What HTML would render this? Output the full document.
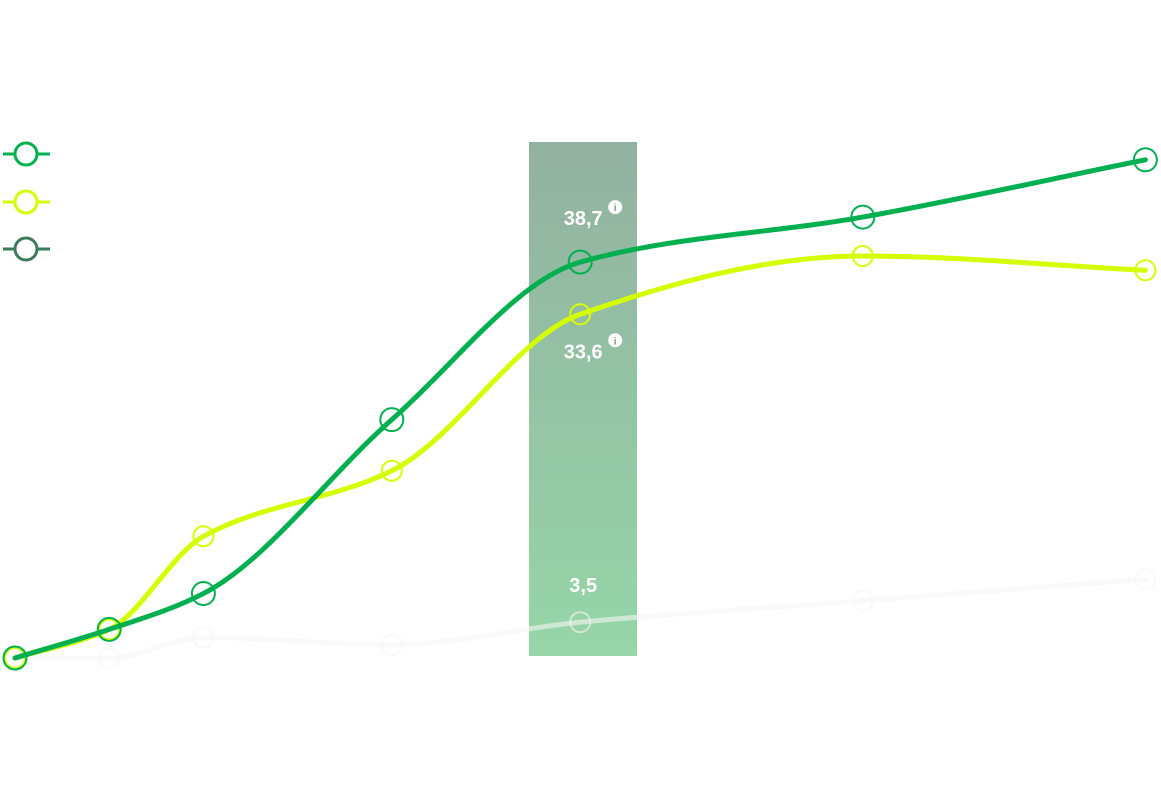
<!DOCTYPE html>
<html><head><meta charset="utf-8"><style>
html,body{margin:0;padding:0;background:#fff;width:1161px;height:804px;overflow:hidden}
svg{display:block;font-family:"Liberation Sans",sans-serif}
</style></head><body>
<svg id="chart" width="1161" height="804" viewBox="0 0 1161 804">
<defs><linearGradient id="bandGrad" x1="0" y1="0" x2="0" y2="1"><stop offset="0" stop-color="#93b1a1"/><stop offset="1" stop-color="#96d6a8"/></linearGradient></defs>
<rect x="529" y="142" width="108" height="514" fill="url(#bandGrad)"/>
<g id="legend">
<g><line x1="3" y1="154" x2="50" y2="154" stroke="#00b050" stroke-width="3"/><circle cx="26" cy="154" r="11" fill="#fff" stroke="#00b050" stroke-width="3"/></g>
<g><line x1="3" y1="202" x2="50" y2="202" stroke="#d4ff00" stroke-width="3"/><circle cx="26" cy="202" r="11" fill="#fff" stroke="#d4ff00" stroke-width="3"/></g>
<g><line x1="3" y1="249" x2="50" y2="249" stroke="#3e7a5c" stroke-width="3"/><circle cx="26" cy="249" r="11" fill="#fff" stroke="#3e7a5c" stroke-width="3"/></g>
</g>
<g id="plot"></g>
</svg>
<script>
const xValues=[0,1,2,4,6,9,12];
const seriesGreen=[0,2.8,6.3,23.3,38.7,43.1,48.7];
const seriesYellow=[0,2.8,11.9,18.3,33.6,39.3,37.9];
const seriesGray=[0,0,2.0,1.3,3.5,5.6,7.7];
const highlightIndex=4;
const labelGreen="38,7", labelYellow="33,6", labelGray="3,5";

const X=v=>15+v*94.2, Y=v=>658-v*10.23;
const NS="http://www.w3.org/2000/svg";
const plot=document.getElementById('plot');
function mk(t,a){const e=document.createElementNS(NS,t);for(const k in a)e.setAttribute(k,a[k]);return e;}
function monotonePath(xs,ys){
  const n=xs.length,d=[],m=[];
  for(let i=0;i<n-1;i++)d.push((ys[i+1]-ys[i])/(xs[i+1]-xs[i]));
  m[0]=d[0];m[n-1]=d[n-2];
  for(let i=1;i<n-1;i++){m[i]=0;
    const w1=2*(xs[i+1]-xs[i])+(xs[i]-xs[i-1]),w2=(xs[i+1]-xs[i])+2*(xs[i]-xs[i-1]);
    if(d[i-1]*d[i]>0)m[i]=(w1+w2)/(w1/d[i-1]+w2/d[i]);}
  let p=`M${xs[0]},${ys[0]}`;
  for(let i=0;i<n-1;i++){const h=(xs[i+1]-xs[i])/3;
    p+=`C${xs[i]+h},${ys[i]+m[i]*h} ${xs[i+1]-h},${ys[i+1]-m[i+1]*h} ${xs[i+1]},${ys[i+1]}`;}
  return p;}
function drawSeries(vals,color,name,r,sw){
  const xs=xValues.map(X),ys=vals.map(Y);
  const path=mk('path',{d:monotonePath(xs,ys),fill:'none',stroke:color,'stroke-width':sw,'stroke-linecap':'round'});
  
  
  plot.appendChild(path);
  xs.forEach((x,i)=>{const c=mk('circle',{cx:x,cy:ys[i],r:r,fill:'none',stroke:color,'stroke-width':2});
    
    
    plot.appendChild(c);});
}
drawSeries(seriesGray,'rgba(245,245,245,0.6)','series-3',10,5);
drawSeries(seriesYellow,'#d4ff00','series-2',10,5);
drawSeries(seriesGreen,'#00b050','series-1',11.5,5);
function label(txt,x,y,info,name){
  const t=mk('text',{x:x,y:y,'text-anchor':'middle','font-size':20,'font-weight':'bold',fill:'#fff'});
  t.textContent=txt;
  
  
  plot.appendChild(t);
  if(info){const g=mk('g',{});
    
    
    g.appendChild(mk('circle',{cx:x+32,cy:y-18,r:7,fill:'#fff'}));
    const i=mk('text',{x:x+32,y:y-14,'text-anchor':'middle','font-size':10,'font-weight':'bold',fill:'#7a9a88'});i.textContent='i';g.appendChild(i);
    plot.appendChild(g);}
}
const hx=X(xValues[highlightIndex]);
label(labelGreen,hx+3,Y(seriesGreen[highlightIndex])-37,true,'value-label-series-1');
label(labelYellow,hx+3,Y(seriesYellow[highlightIndex])+44,true,'value-label-series-2');
label(labelGray,hx+3,Y(seriesGray[highlightIndex])-30,false,'value-label-series-3');
</script>
</body></html>
